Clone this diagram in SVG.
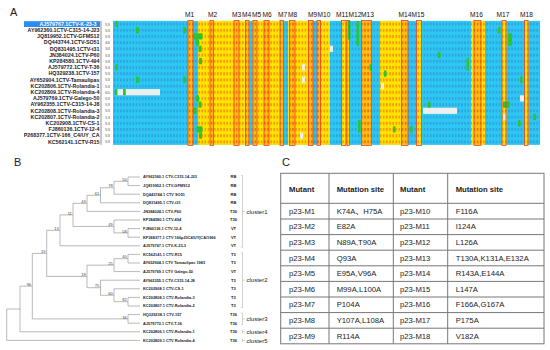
<svg xmlns="http://www.w3.org/2000/svg" width="550" height="350" viewBox="0 0 550 350">
<style>
text{font-family:"Liberation Sans",Arial,"Noto Sans CJK SC",sans-serif;}
.pl{font-size:11px;fill:#222}
.ml{font-size:6.6px;fill:#111}
.nm{font-size:5.3px;font-weight:bold;fill:#1b1b2e;text-anchor:end}
.sel{fill:#ffffff}
.num{font-size:4.4px;fill:#666;text-anchor:end}
.cy{fill:#2cc8f4}
.cyt{fill:url(#bluemarks)}
.ye{fill:url(#yelmarks)}
.or{fill:url(#ormarks)}
.gr{fill:#2ec42e}
.wh{fill:#eeeeee}
.bx{fill:none;stroke:#e8402a;stroke-width:0.8}
.br{fill:none;stroke:#8a8a8a;stroke-width:0.6}
.bs{font-size:4px;fill:#444;text-anchor:end}
.lf{font-size:3.9px;font-weight:bold;fill:#222}
.ty{font-size:4.1px;font-weight:bold;fill:#222;text-anchor:middle}
.cl{font-size:6px;fill:#222}
.bk{fill:none;stroke:#b5b5b5;stroke-width:0.6}
.tb{fill:none;stroke:#777;stroke-width:1}
.th{font-size:7.7px;font-weight:bold;fill:#222}
.td{font-size:7.7px;fill:#222}
</style>
<defs>
<clipPath id="nameclip"><rect x="24" y="20" width="77" height="126"/></clipPath>
<pattern id="bluemarks" patternUnits="userSpaceOnUse" x="113" y="20.9" width="3.13" height="6.2">
<rect x="0.7" y="1.7" width="1.7" height="3" fill="#3a4fb0" fill-opacity="0.3"/>
</pattern>
<pattern id="yelmarks" patternUnits="userSpaceOnUse" x="113" y="20.9" width="3.13" height="6.2">
<rect x="0" y="0" width="3.13" height="6.2" fill="#ffe400"/>
<rect x="0.7" y="1.7" width="1.7" height="3" fill="#f04010" fill-opacity="0.45"/>
</pattern>
<pattern id="ormarks" patternUnits="userSpaceOnUse" x="113" y="20.9" width="3.13" height="6.2">
<rect x="0" y="0" width="3.13" height="6.2" fill="#ffbe10"/>
<rect x="0.7" y="1.7" width="1.7" height="3" fill="#e02010" fill-opacity="0.5"/>
</pattern>
</defs>
<rect x="0" y="0" width="550" height="350" fill="#ffffff"/>

<!-- ===== Panel A ===== -->
<g id="panelA">
<text class="pl" x="10" y="15.5">A</text>
<g id="motif-labels" class="ml">
<text x="185" y="17.3">M1</text>
<text x="208" y="17.3">M2</text>
<text x="232" y="17.3">M3</text>
<text x="242" y="17.3">M4</text>
<text x="252" y="17.3">M5</text>
<text x="262.5" y="17.3">M6</text>
<text x="278" y="17.3">M7</text>
<text x="288" y="17.3">M8</text>
<text x="308" y="17.3">M9</text>
<text x="317.5" y="17.3">M10</text>
<text x="336" y="17.3">M11</text>
<text x="348.5" y="17.3">M12</text>
<text x="361" y="17.3">M13</text>
<text x="398.5" y="17.3">M14</text>
<text x="411.5" y="17.3">M15</text>
<text x="470" y="17.3">M16</text>
<text x="496.5" y="17.3">M17</text>
<text x="520" y="17.3">M18</text>
</g>
<g id="names" clip-path="url(#nameclip)">
<rect x="24" y="21.2" width="76" height="5.8" fill="#2d8cf0"/>
<text class="nm sel" x="96.5" y="25.8">AJ579767.1CTV-K-23-3</text>
<text class="nm" x="99.5" y="32">AY962360.1CTV-C315-14-J23</text>
<text class="nm" x="99.5" y="38.2">JQ819952.1CTV-GFMS12</text>
<text class="nm" x="99.5" y="44.4">DQ443744.1CTV-SO51</text>
<text class="nm" x="99.5" y="50.6">DQ831495.1CTV-t31</text>
<text class="nm" x="99.5" y="56.8">JN384024.1CTV-P60</text>
<text class="nm" x="99.5" y="63">KP284580.1CTV-494</text>
<text class="nm" x="99.5" y="69.2">AJ579772.1CTV-T-36</text>
<text class="nm" x="99.5" y="75.4">HQ329238.1CTV-157</text>
<text class="nm" x="99.5" y="81.6">AY652904.1CTV-Tamaulipas</text>
<text class="nm" x="99.5" y="87.8">KC202806.1CTV-Rolandia-1</text>
<text class="nm" x="99.5" y="94">KC202809.1CTV-Rolandia-4</text>
<text class="nm" x="99.5" y="100.2">AJ579769.1CTV-Galego-50</text>
<text class="nm" x="99.5" y="106.4">AY962355.1CTV-C315-14-J8</text>
<text class="nm" x="99.5" y="112.6">KC202808.1CTV-Rolandia-3</text>
<text class="nm" x="99.5" y="118.8">KC202807.1CTV-Rolandia-2</text>
<text class="nm" x="99.5" y="125">KC202908.1CTV-CS-1</text>
<text class="nm" x="99.5" y="131.2">FJ860136.1CTV-12-4</text>
<text class="nm" x="99.5" y="137.4">KP268377.1CTV-166_C4/UY_CA</text>
<text class="nm" x="99.5" y="143.6">KC562141.1CTV-R15</text>
</g>
<rect x="100.3" y="20.9" width="1.4" height="124" fill="#b0b0b0"/>
<g id="start-numbers" class="num">
<text x="110" y="25.6">53</text>
<text x="110" y="31.8">53</text>
<text x="110" y="38">53</text>
<text x="110" y="44.2">46</text>
<text x="110" y="50.4">34</text>
<text x="110" y="56.6">53</text>
<text x="110" y="62.8">53</text>
<text x="110" y="69">53</text>
<text x="110" y="75.2">53</text>
<text x="110" y="81.4">53</text>
<text x="110" y="87.6">53</text>
<text x="110" y="93.8">60</text>
<text x="110" y="100">53</text>
<text x="110" y="106.2">53</text>
<text x="110" y="112.4">53</text>
<text x="110" y="118.6">13</text>
<text x="110" y="124.8">53</text>
<text x="110" y="131">53</text>
<text x="110" y="137.2">53</text>
<text x="110" y="143.4">53</text>
</g>
<g id="alignment">
<rect class="cy" x="113" y="20.9" width="427" height="124"/>
<rect class="cyt" x="113" y="20.9" width="427" height="124"/>
<rect class="or" x="188" y="20.9" width="5" height="124"/>
<rect class="ye" x="198" y="20.9" width="51.5" height="124"/>
<rect class="ye" x="252.5" y="20.9" width="31.5" height="124"/>
<rect class="ye" x="288" y="20.9" width="25" height="124"/>
<rect class="ye" x="317" y="20.9" width="13" height="124"/>
<rect class="ye" x="341.5" y="20.9" width="8.5" height="124"/>
<rect class="ye" x="361.5" y="20.9" width="10.5" height="124"/>
<rect class="ye" x="380" y="20.9" width="28" height="124"/>
<rect class="ye" x="416.5" y="20.9" width="5.5" height="124"/>
<rect class="ye" x="471" y="20.9" width="14" height="124"/>
<rect class="ye" x="502" y="20.9" width="4.5" height="124"/>
<rect class="ye" x="524.5" y="20.9" width="4" height="124"/>
<rect class="or" x="210" y="20.9" width="3.5" height="124"/>
<rect class="or" x="234" y="20.9" width="5" height="124"/>
<rect class="or" x="245.5" y="20.9" width="3.5" height="124"/>
<rect class="or" x="253" y="20.9" width="4" height="124"/>
<rect class="or" x="264" y="20.9" width="5" height="124"/>
<rect class="or" x="280" y="20.9" width="3.5" height="124"/>
<rect class="or" x="289.5" y="20.9" width="5.5" height="124"/>
<rect class="or" x="308.5" y="20.9" width="4.5" height="124"/>
<rect class="or" x="317" y="20.9" width="3.5" height="124"/>
<rect class="or" x="362" y="20.9" width="9.5" height="124"/>
<rect class="or" x="402" y="20.9" width="6" height="124"/>
<rect class="or" x="474" y="20.9" width="7" height="124"/>
<!-- white / grey cells -->
<rect class="wh" x="115" y="89.1" width="45" height="6.2"/>
<rect class="wh" x="423" y="107.7" width="34" height="6.2"/>
<rect class="wh" x="330" y="45.7" width="3" height="6.2"/>
<rect class="wh" x="302" y="64.3" width="3" height="6.2"/>
<rect class="wh" x="302" y="76.7" width="3" height="6.2"/>
<rect class="wh" x="381" y="82.9" width="3" height="6.2"/>
<rect class="wh" x="503" y="113.9" width="3" height="6.2"/>
<rect class="wh" x="300" y="132.5" width="3" height="6.2"/>
<rect class="wh" x="520" y="95.3" width="4" height="6.2"/>
<!-- green cells -->
<rect class="gr" x="115.5" y="20.9" width="2.5" height="6.2"/>
<rect class="gr" x="115.5" y="64.3" width="2.5" height="6.2"/>
<rect class="gr" x="115" y="89.1" width="2.5" height="6.2"/>
<rect class="gr" x="123" y="89.1" width="2.8" height="6.2"/>
<rect class="gr" x="136" y="27.1" width="2.8" height="6.2"/>
<rect class="gr" x="136" y="76.7" width="2.8" height="6.2"/>
<rect class="gr" x="183" y="27.1" width="3" height="6.2"/>
<rect class="gr" x="183" y="76.7" width="3" height="6.2"/>
<rect class="gr" x="193.5" y="33.3" width="9" height="6.2"/>
<rect class="gr" x="196" y="39.5" width="3" height="6.2"/>
<rect class="gr" x="198.5" y="45.7" width="3" height="6.2"/>
<rect class="gr" x="199" y="58.1" width="3" height="6.2"/>
<rect class="gr" x="196" y="95.3" width="3" height="6.2"/>
<rect class="gr" x="198.5" y="101.5" width="3" height="6.2"/>
<rect class="gr" x="193.5" y="107.7" width="3" height="6.2"/>
<rect class="gr" x="196.5" y="126.3" width="6" height="6.2"/>
<rect class="gr" x="199" y="132.5" width="3" height="6.2"/>
<rect class="gr" x="348" y="20.9" width="2.5" height="18.6"/>
<rect class="gr" x="356.5" y="20.9" width="2.5" height="24.8"/>
<rect class="gr" x="369.5" y="64.3" width="2.5" height="6.2"/>
<rect class="gr" x="384" y="70.5" width="2.5" height="6.2"/>
<rect class="gr" x="508" y="33.3" width="4" height="12.4"/>
<rect class="gr" x="498" y="27.1" width="2.5" height="6.2"/>
<rect class="gr" x="466.5" y="58.1" width="2.5" height="12.4"/>
<rect class="gr" x="438" y="51.9" width="2.5" height="6.2"/>
<rect class="gr" x="520" y="76.7" width="2.5" height="6.2"/>
<rect class="gr" x="428" y="101.5" width="2.5" height="6.2"/>
<rect class="gr" x="503" y="101.5" width="7" height="6.2"/>
<rect class="gr" x="533" y="113.9" width="3" height="6.2"/>
<rect class="gr" x="358" y="120.1" width="2.5" height="12.4"/>
<rect class="gr" x="393" y="126.3" width="2.5" height="6.2"/>
<rect class="gr" x="410" y="126.3" width="2.5" height="6.2"/>
<rect class="gr" x="518" y="120.1" width="2.5" height="6.2"/>
</g>
<g id="motif-boxes">
<rect class="bx" x="188" y="20.5" width="5" height="125"/>
<rect class="bx" x="210" y="20.5" width="3.5" height="125"/>
<rect class="bx" x="234" y="20.5" width="5" height="125"/>
<rect class="bx" x="245.5" y="20.5" width="3.5" height="125"/>
<rect class="bx" x="253" y="20.5" width="4" height="125"/>
<rect class="bx" x="264" y="20.5" width="5" height="125"/>
<rect class="bx" x="280" y="20.5" width="3.5" height="125"/>
<rect class="bx" x="289.5" y="20.5" width="5.5" height="125"/>
<rect class="bx" x="308.5" y="20.5" width="4.5" height="125"/>
<rect class="bx" x="317" y="20.5" width="3.5" height="125"/>
<rect class="bx" x="341.5" y="20.5" width="4.5" height="125"/>
<rect class="bx" x="347" y="20.5" width="2.5" height="125"/>
<rect class="bx" x="361.5" y="20.5" width="10" height="125"/>
<rect class="bx" x="401.5" y="20.5" width="6.5" height="125"/>
<rect class="bx" x="416.5" y="20.5" width="5" height="125"/>
<rect class="bx" x="474" y="20.5" width="7" height="125"/>
<rect class="bx" x="502" y="20.5" width="4" height="125"/>
<rect class="bx" x="524.5" y="20.5" width="3.5" height="125"/>
</g>
</g>

<!-- ===== Panel B ===== -->
<g id="panelB">
<text class="pl" x="14" y="166">B</text>
<g id="connectors">
<path class="br" d="M128 177V185.6M114 181.3V194.2M100.5 187.75V202.8M87 195.3V211.4M128 228.6V237.2M114 220V232.9M73 203.35V226.45M60 214.9V245.8M128 254.4V263M114 258.7V271.6M128 297.4V306M114 288.8V301.7M100.5 280.2V295.25M87 265.15V287.7M46.7 230.35V276.45M128 314.6V323.2M32.3 253.4V318.9M20 286.15V331.8M6.7 309V340.4
M128 177H140M128 185.6H140M114 194.2H140M100.5 202.8H140M87 211.4H140M114 220H140M128 228.6H140M128 237.2H140M60 245.8H140M128 254.4H140M128 263H140M114 271.6H140M100.5 280.2H140M114 288.8H140M128 297.4H140M128 306H140M128 314.6H140M128 323.2H140M20 331.8H140M6.7 340.4H140
M114 181.3H128M100.5 187.75H114M87 195.3H100.5M73 203.35H87M114 232.9H128M73 226.45H114M60 214.9H73M46.7 230.35H60M114 258.7H128M87 265.15H114M114 301.7H128M100.5 295.25H114M87 287.7H100.5M46.7 276.45H87M32.3 253.4H46.7M32.3 318.9H128M20 286.15H32.3M6.7 309H20"/>
<path class="bk" d="M241 175.5H242.5V247.3H241M242.5 211.4H245M241 252.9H242.5V307.5H241M242.5 280.2H245M241 313.1H242.5V324.7H241M242.5 318.9H245M242.5 330.3V333.3M242.5 331.8H245M242.5 338.9V341.9M242.5 340.4H245"/>
</g>
<g id="bootstrap" class="bs">
<text x="126.8" y="181">50</text>
<text x="112.8" y="187.45">78</text>
<text x="99.3" y="195">61</text>
<text x="85.8" y="203.05">43</text>
<text x="112.8" y="226.15">49</text>
<text x="126.8" y="232.6">58</text>
<text x="71.8" y="214.6">11</text>
<text x="58.8" y="230.05">13</text>
<text x="126.8" y="258.4">40</text>
<text x="112.8" y="264.85">25</text>
<text x="126.8" y="301.4">82</text>
<text x="112.8" y="294.95">60</text>
<text x="99.3" y="287.4">75</text>
<text x="85.8" y="276.15">18</text>
<text x="45.5" y="253.1">19</text>
<text x="126.8" y="318.6">36</text>
<text x="31.1" y="285.85">96</text>
</g>
<g id="leaf-0"><text class="lf" x="143" y="178.4">AY962360.1 CTV-C315-14-J23</text><text class="ty" x="233.5" y="178.4">RB</text></g>
<g id="leaf-1"><text class="lf" x="143" y="187">JQ819952.1 CTV-GFMS12</text><text class="ty" x="233.5" y="187">RB</text></g>
<g id="leaf-2"><text class="lf" x="143" y="195.6">DQ443744.1 CTV SO51</text><text class="ty" x="233.5" y="195.6">RB</text></g>
<g id="leaf-3"><text class="lf" x="143" y="204.2">DQ831495.1 CTV-t31</text><text class="ty" x="233.5" y="204.2">RB</text></g>
<g id="leaf-4"><text class="lf" x="143" y="212.8">JN384024.1 CTV-P60</text><text class="ty" x="233.5" y="212.8">T30</text></g>
<g id="leaf-5"><text class="lf" x="143" y="221.4">KP284580.1 CTV-494</text><text class="ty" x="233.5" y="221.4">T30</text></g>
<g id="leaf-6"><text class="lf" x="143" y="230">FJ860136.1 CTV-12-4</text><text class="ty" x="233.5" y="230">VT</text></g>
<g id="leaf-7"><text class="lf" x="143" y="238.6">KP268377.1 CTV 166p23C4/UY|CA/1966</text><text class="ty" x="233.5" y="238.6">VT</text></g>
<g id="leaf-8"><text class="lf" x="143" y="247.2">AJ579767.1 CTV-K-23-3</text><text class="ty" x="233.5" y="247.2">VT</text></g>
<g id="leaf-9"><text class="lf" x="143" y="255.8">KC562141.1 CTV-R15</text><text class="ty" x="233.5" y="255.8">T3</text></g>
<g id="leaf-10"><text class="lf" x="143" y="264.4">AY652904.1 CTV Tamaulipas 1983</text><text class="ty" x="233.5" y="264.4">T3</text></g>
<g id="leaf-11"><text class="lf" x="143" y="273">AJ579769.1 CTV Galego-50</text><text class="ty" x="233.5" y="273">VT</text></g>
<g id="leaf-12"><text class="lf" x="143" y="281.6">AY962355.1 CTV-C315-14-J8</text><text class="ty" x="233.5" y="281.6">T3</text></g>
<g id="leaf-13"><text class="lf" x="143" y="290.2">KC202908.1 CTV-CS-1</text><text class="ty" x="233.5" y="290.2">T3</text></g>
<g id="leaf-14"><text class="lf" x="143" y="298.8">KC202808.1 CTV-Rolandia-3</text><text class="ty" x="233.5" y="298.8">T3</text></g>
<g id="leaf-15"><text class="lf" x="143" y="307.4">KC202807.1 CTV-Rolandia-2</text><text class="ty" x="233.5" y="307.4">T3</text></g>
<g id="leaf-16"><text class="lf" x="143" y="316">HQ329238.1 CTV-157</text><text class="ty" x="233.5" y="316">T36</text></g>
<g id="leaf-17"><text class="lf" x="143" y="324.6">AJ579772.1 CTV-T-36</text><text class="ty" x="233.5" y="324.6">T36</text></g>
<g id="leaf-18"><text class="lf" x="143" y="333.2">KC202806.1 CTV-Rolandia-1</text><text class="ty" x="233.5" y="333.2">T30</text></g>
<g id="leaf-19"><text class="lf" x="143" y="341.8">KC202809.1 CTV Rolandia-4</text><text class="ty" x="233.5" y="341.8">T36</text></g>
<g id="cluster-labels" class="cl">
<text x="246.5" y="213.5">cluster1</text>
<text x="246.5" y="282.3">cluster2</text>
<text x="246.5" y="321">cluster3</text>
<text x="246.5" y="333.9">cluster4</text>
<text x="246.5" y="342.5">cluster5</text>
</g>
</g>

<!-- ===== Panel C ===== -->
<g id="panelC">
<text class="pl" x="282" y="166">C</text>
<rect class="tb" x="280.7" y="173.3" width="263.3" height="170.5"/>
<path class="tb" d="M329 173.3V343.8M393.3 173.3V343.8M447.7 173.3V343.8M280.7 203.3H544M280.7 219H544M280.7 234.6H544M280.7 250.2H544M280.7 265.8H544M280.7 281.4H544M280.7 297H544M280.7 312.6H544M280.7 328.2H544"/>
<g class="th">
<text x="289" y="192">Mutant</text>
<text x="336.7" y="192">Mutation site</text>
<text x="400" y="192">Mutant</text>
<text x="455.7" y="192">Mutation site</text>
</g>
<g class="td">
<text x="289" y="213.8">p23-M1</text><text x="336.7" y="213.8">K74A、H75A</text><text x="400" y="213.8">p23-M10</text><text x="455.7" y="213.8">F116A</text>
<text x="289" y="229.4">p23-M2</text><text x="336.7" y="229.4">E82A</text><text x="400" y="229.4">p23-M11</text><text x="455.7" y="229.4">I124A</text>
<text x="289" y="245">p23-M3</text><text x="336.7" y="245">N89A,T90A</text><text x="400" y="245">p23-M12</text><text x="455.7" y="245">L126A</text>
<text x="289" y="260.6">p23-M4</text><text x="336.7" y="260.6">Q93A</text><text x="400" y="260.6">p23-M13</text><text x="455.7" y="260.6">T130A,K131A,E132A</text>
<text x="289" y="276.2">p23-M5</text><text x="336.7" y="276.2">E95A,V96A</text><text x="400" y="276.2">p23-M14</text><text x="455.7" y="276.2">R143A,E144A</text>
<text x="289" y="291.8">p23-M6</text><text x="336.7" y="291.8">M99A,L100A</text><text x="400" y="291.8">p23-M15</text><text x="455.7" y="291.8">L147A</text>
<text x="289" y="307.4">p23-M7</text><text x="336.7" y="307.4">P104A</text><text x="400" y="307.4">p23-M16</text><text x="455.7" y="307.4">F166A,G167A</text>
<text x="289" y="323">p23-M8</text><text x="336.7" y="323">Y107A,L108A</text><text x="400" y="323">p23-M17</text><text x="455.7" y="323">P175A</text>
<text x="289" y="338.6">p23-M9</text><text x="336.7" y="338.6">R114A</text><text x="400" y="338.6">p23-M18</text><text x="455.7" y="338.6">V182A</text>
</g>
</g>
</svg>
